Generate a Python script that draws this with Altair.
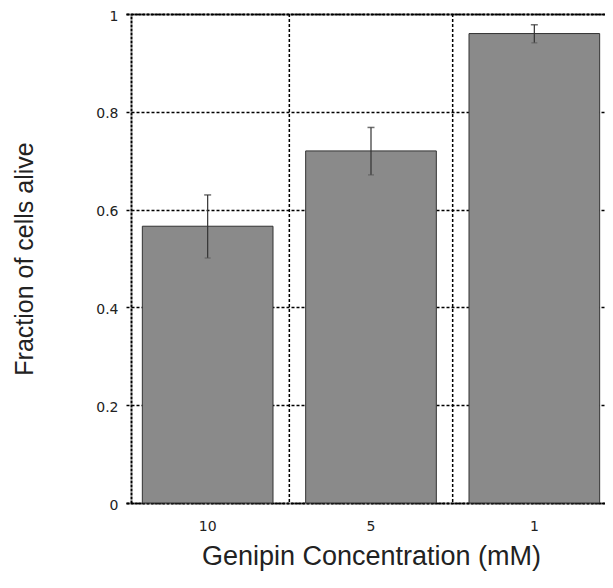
import altair as alt
import pandas as pd

concentrations = ["10", "5", "1"]
fraction_alive = [0.566, 0.720, 0.960]
error_low = [0.501, 0.671, 0.941]
error_high = [0.630, 0.768, 0.978]
y_ticks = [0, 0.2, 0.4, 0.6, 0.8, 1]

df = pd.DataFrame({
    "conc": concentrations,
    "mean": fraction_alive,
    "lo": error_low,
    "hi": error_high,
})

xscale = alt.Scale(domain=concentrations, paddingInner=0, paddingOuter=0,
                   range=[-5, 485])
yscale = alt.Scale(domain=[0, 1], nice=False)

yaxis = alt.Axis(
    values=y_ticks, format="~g", title="Fraction of cells alive",
    grid=True, gridColor="black", gridDash=[3, 2], gridWidth=1.5,
    ticks=False, labelPadding=13, labelFont="DejaVu Sans", labelFontSize=14,
    labelOffset=2,
    labelColor="#222", domainColor="black", domainWidth=2, domainDash=[3, 1],
    titleFont="Liberation Sans", titleFontSize=25, titleFontWeight="normal",
    titleColor="#222", titleX=-99, titleBaseline="alphabetic",
)

xaxis = alt.Axis(
    orient="bottom", title="Genipin Concentration (mM)", labelAngle=0,
    grid=False, ticks=False, labelPadding=16, labelFont="DejaVu Sans",
    labelFontSize=14, labelColor="#222", domainColor="black", domainWidth=2,
    domainDash=[3, 1], titleFont="Liberation Sans", titleFontSize=27,
    titleFontWeight="normal", titleColor="#222", titleY=61,
    titleBaseline="alphabetic",
)

topaxis = alt.Axis(
    orient="top", labels=False, ticks=False, grid=False, title=None,
    domainColor="black", domainWidth=2, domainDash=[3, 1],
)

base = alt.Chart(df)

vgrid = base.mark_rule(color="black", strokeWidth=1.5, strokeDash=[3, 2]).encode(
    x=alt.X("conc:N", sort=concentrations, scale=xscale, bandPosition=0,
            axis=None),
).transform_filter(alt.datum.conc != concentrations[0])

bars = base.mark_bar(
    color="#8a8a8a", stroke="#333333", strokeWidth=1,
    width=alt.RelativeBandSize(0.8),
).encode(
    x=alt.X("conc:N", sort=concentrations, scale=xscale, axis=xaxis),
    y=alt.Y("mean:Q", scale=yscale, axis=yaxis),
)

rules = base.mark_rule(color="#333333", strokeWidth=1.2).encode(
    x=alt.X("conc:N", sort=concentrations, scale=xscale, axis=topaxis),
    y=alt.Y("lo:Q", scale=yscale, axis=yaxis),
    y2="hi:Q",
)

caps_hi = base.mark_tick(color="#333333", thickness=1.5, size=7).encode(
    x=alt.X("conc:N", sort=concentrations, scale=xscale, axis=None),
    y=alt.Y("hi:Q", scale=yscale, axis=yaxis),
)

caps_lo = base.mark_tick(color="#555555", thickness=1.2, size=6).encode(
    x=alt.X("conc:N", sort=concentrations, scale=xscale, axis=None),
    y=alt.Y("lo:Q", scale=yscale, axis=yaxis),
)

chart = alt.layer(vgrid, bars, rules, caps_hi, caps_lo).resolve_axis(
    x="independent"
).properties(
    width=474, height=489,
    padding={"left": 123, "top": 6, "right": 0, "bottom": 70},
    autosize=alt.AutoSizeParams(type="none"),
).configure_view(strokeWidth=0)

chart.save("out.html", embed_options={"renderer": "svg", "actions": False})
